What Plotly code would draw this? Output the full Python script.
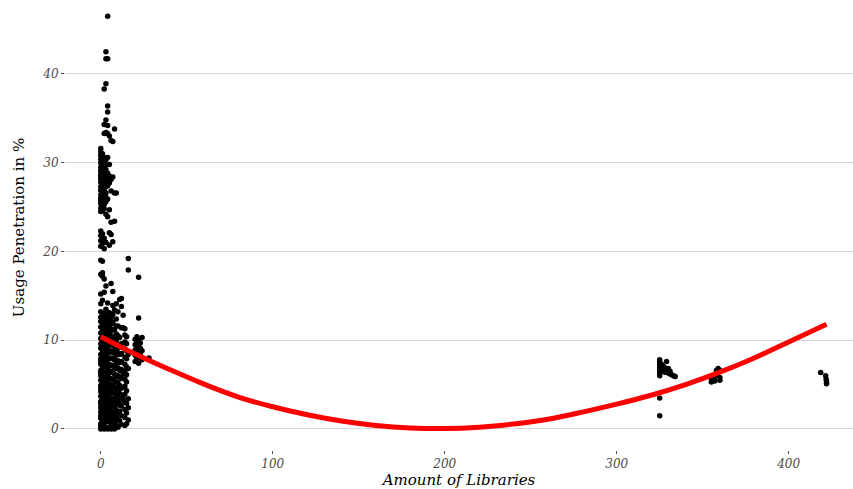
import plotly.graph_objects as go

# ---- scatter data: library count -> usage penetration (%) ----
# low-count columns (x value : y values)
col_x = [0, 1, 2, 3, 4, 5, 6, 7, 8, 9, 10, 11, 12, 13, 14, 15, 16, 20, 21, 22, 23, 24]
col_y = [
    [0.0, 0.3, 0.6, 1.2, 1.5, 1.9, 2.4, 2.8, 3.1, 3.7, 4.2, 4.6, 4.9, 5.5, 6.0, 6.3, 6.6, 7.3, 7.6, 7.9, 8.4, 9.1, 9.6, 10.2, 10.8, 11.5, 12.1, 12.6, 13.2,
     14.1, 15.2, 17.4, 19.0, 20.6, 21.2, 21.8, 22.3, 24.5, 24.9, 25.4, 25.7, 26.0, 26.4, 26.9, 27.3, 27.8, 28.2, 28.5, 28.7, 29.1, 29.5, 30.0, 30.4, 30.8, 31.2, 31.6],
    [0.1, 0.5, 0.9, 1.5, 2.2, 2.5, 2.9, 3.5, 4.0, 4.7, 5.3, 5.8, 6.2, 6.9, 7.5, 8.1, 8.8, 9.4, 10.0, 10.5, 11.2, 11.9, 12.3, 12.8, 14.5,
     17.2, 17.6, 18.9, 20.9, 22.0, 24.6, 25.1, 25.7, 26.2, 26.6, 27.1, 27.5, 27.9, 28.3, 28.6, 29.0, 29.4, 29.8, 30.1, 30.6, 31.0],
    [0.0, 0.7, 1.1, 1.4, 2.0, 2.6, 3.0, 3.4, 4.1, 4.6, 5.2, 5.9, 6.4, 7.1, 7.7, 8.2, 8.5, 9.2, 9.8, 10.6, 11.4, 12.3, 13.0, 15.4,
     16.9, 20.3, 21.5, 24.8, 25.3, 25.9, 26.3, 27.0, 27.5, 28.0, 28.4, 28.9, 29.3, 29.7, 30.2, 30.6, 33.3, 34.3, 38.3],
    [0.2, 1.0, 1.7, 2.3, 3.0, 3.6, 4.4, 5.1, 5.8, 6.3, 7.0, 7.6, 8.3, 9.0, 9.7, 10.4, 11.0, 12.0, 12.7, 13.5,
     16.1, 21.0, 24.2, 25.6, 26.1, 26.6, 27.3, 28.0, 28.6, 29.2, 29.7, 30.3, 33.4, 34.8, 38.9, 41.7, 42.5],
    [0.0, 0.8, 1.3, 2.1, 2.7, 3.2, 3.9, 4.5, 5.0, 5.4, 6.1, 6.8, 7.4, 8.0, 8.7, 9.3, 10.1, 10.9, 11.7, 12.6, 14.2,
     23.9, 25.9, 27.4, 28.1, 28.8, 30.6, 33.3, 34.2, 35.7, 36.4, 41.7, 46.5],
    [0.1, 0.9, 1.6, 2.4, 3.3, 4.0, 4.8, 5.6, 6.3, 7.2, 7.9, 8.6, 9.4, 10.2, 10.7, 11.3, 12.2, 13.1,
     20.7, 22.1, 24.7, 27.7, 28.5, 29.8, 33.0],
    [0.0, 0.5, 1.2, 2.0, 2.8, 3.5, 4.3, 5.0, 5.7, 6.5, 7.2, 8.0, 8.8, 9.5, 10.3, 11.0, 11.8, 12.5,
     16.4, 21.9, 23.3, 26.8, 28.1, 32.5],
    [0.3, 1.1, 1.9, 2.6, 3.4, 4.1, 4.9, 5.6, 6.4, 7.1, 7.9, 8.7, 9.6, 10.4, 11.2, 12.0, 12.9, 13.9,
     15.5, 21.1, 28.4, 32.4],
    [0.0, 0.8, 1.6, 2.5, 3.2, 4.0, 4.7, 5.5, 6.2, 7.0, 7.8, 8.5, 9.3, 10.1, 11.2, 13.4,
     23.4, 26.6, 33.8],
    [0.4, 1.3, 2.1, 2.9, 3.7, 4.6, 5.3, 6.0, 6.8, 7.5, 8.3, 9.0, 9.9, 10.7, 11.6, 12.4, 14.1, 26.6],
    [0.2, 1.0, 1.8, 2.7, 3.5, 4.4, 5.2, 6.0, 6.9, 7.7, 8.6, 9.4, 10.5, 11.6, 13.2],
    [0.9, 2.0, 3.1, 4.0, 4.9, 5.8, 6.6, 7.5, 8.4, 9.2, 10.3, 14.6],
    [0.5, 1.5, 2.6, 3.8, 4.6, 5.7, 6.7, 7.6, 8.5, 9.6, 11.4, 13.8, 14.7],
    [3.4, 6.2, 11.4, 12.8],
    [0.4, 1.3, 2.2, 3.0, 3.9, 4.8, 5.6, 6.5, 7.3, 8.1, 9.0, 9.8, 10.6, 11.3],
    [0.6, 1.8, 2.9, 4.3, 5.3, 6.1, 7.0, 7.9, 8.8, 9.6, 10.4],
    [1.0, 2.4, 3.4, 6.8, 8.4, 17.9, 19.2],
    [7.6, 8.3, 8.9, 9.5, 10.1],
    [7.9, 8.6, 9.2, 9.8, 10.4],
    [7.4, 8.1, 8.7, 9.3, 10.0, 12.5, 17.1],
    [8.4, 9.1, 9.7],
    [7.8, 8.8, 10.3],
]
# scattered points at higher counts
hi_x = [28, 325, 325, 325, 325, 325, 325, 325, 326, 326, 327, 327, 328, 328, 329, 329, 330, 330, 331, 331, 332, 333, 334,
        325, 325,
        355, 355, 356, 357, 357, 358, 358, 359, 359, 360, 360, 360,
        418.6, 421.5, 421.8, 422, 422]
hi_y = [8.0, 7.8, 7.5, 7.2, 6.9, 6.6, 6.3, 6.0, 7.3, 6.7, 7.1, 6.6, 6.9, 6.4, 7.6, 6.4, 6.3, 6.8, 6.2, 6.5, 6.1, 6.0, 5.9,
        3.5, 1.5,
        5.3, 5.7, 6.0, 5.4, 5.9, 6.2, 6.6, 6.5, 6.8, 6.6, 5.8, 5.5,
        6.35, 6.0, 5.6, 5.3, 5.1]

# ---- smoothed trend line ----
fit_x = [0, 20, 40, 60, 80, 100, 120, 140, 160, 180, 200, 220, 240, 260, 280, 300, 320, 340, 360, 380, 400, 422]
fit_y = [10.4, 8.45, 6.7, 5.05, 3.6, 2.5, 1.6, 0.9, 0.4, 0.12, 0.05, 0.2, 0.55, 1.1, 1.9, 2.8, 3.8, 5.0, 6.4, 8.0, 9.8, 11.8]

y_ticks = [0, 10, 20, 30, 40]
x_ticks = [0, 100, 200, 300, 400]

xs, ys = [], []
for cx, cy in zip(col_x, col_y):
    xs += [cx] * len(cy)
    ys += cy
xs += hi_x
ys += hi_y

FONT = "DejaVu Serif"
TICK_COLOR = "#4d4d4d"

fig = go.Figure()
fig.add_trace(go.Scatter(x=xs, y=ys, mode="markers",
                         marker=dict(color="black", size=5.5, line=dict(width=0)),
                         hoverinfo="skip", showlegend=False))
fig.add_trace(go.Scatter(x=fit_x, y=fit_y, mode="lines", line=dict(color="#ff0000", width=5, shape="spline"),
                         hoverinfo="skip", showlegend=False))

fig.update_layout(
    width=853, height=489,
    margin=dict(l=65, r=0, t=5, b=39),
    paper_bgcolor="white", plot_bgcolor="white",
    font=dict(family=FONT, color="black"),
    xaxis=dict(range=[-20.8, 437.4], tickvals=x_ticks, showgrid=False, zeroline=False,
               ticks="outside", ticklen=3, tickcolor=TICK_COLOR, tickwidth=1,
               tickfont=dict(family=FONT, size=12, color=TICK_COLOR, style="italic"),
               title=dict(text="Amount of Libraries", font=dict(family=FONT, size=15, style="italic"), standoff=1)),
    yaxis=dict(range=[-2.37, 47.77], tickvals=y_ticks, showgrid=True, gridcolor="#d6d6d6", gridwidth=1,
               zeroline=False, ticks="outside", ticklen=3, tickcolor=TICK_COLOR, tickwidth=1,
               tickfont=dict(family=FONT, size=12, color=TICK_COLOR, style="italic"),
               title=dict(text="Usage Penetration in %", font=dict(family=FONT, size=15), standoff=14)),
)

fig.write_html("out.html", config={"displayModeBar": False},
               post_script="document.body.style.margin='0';document.body.style.overflow='hidden';")
